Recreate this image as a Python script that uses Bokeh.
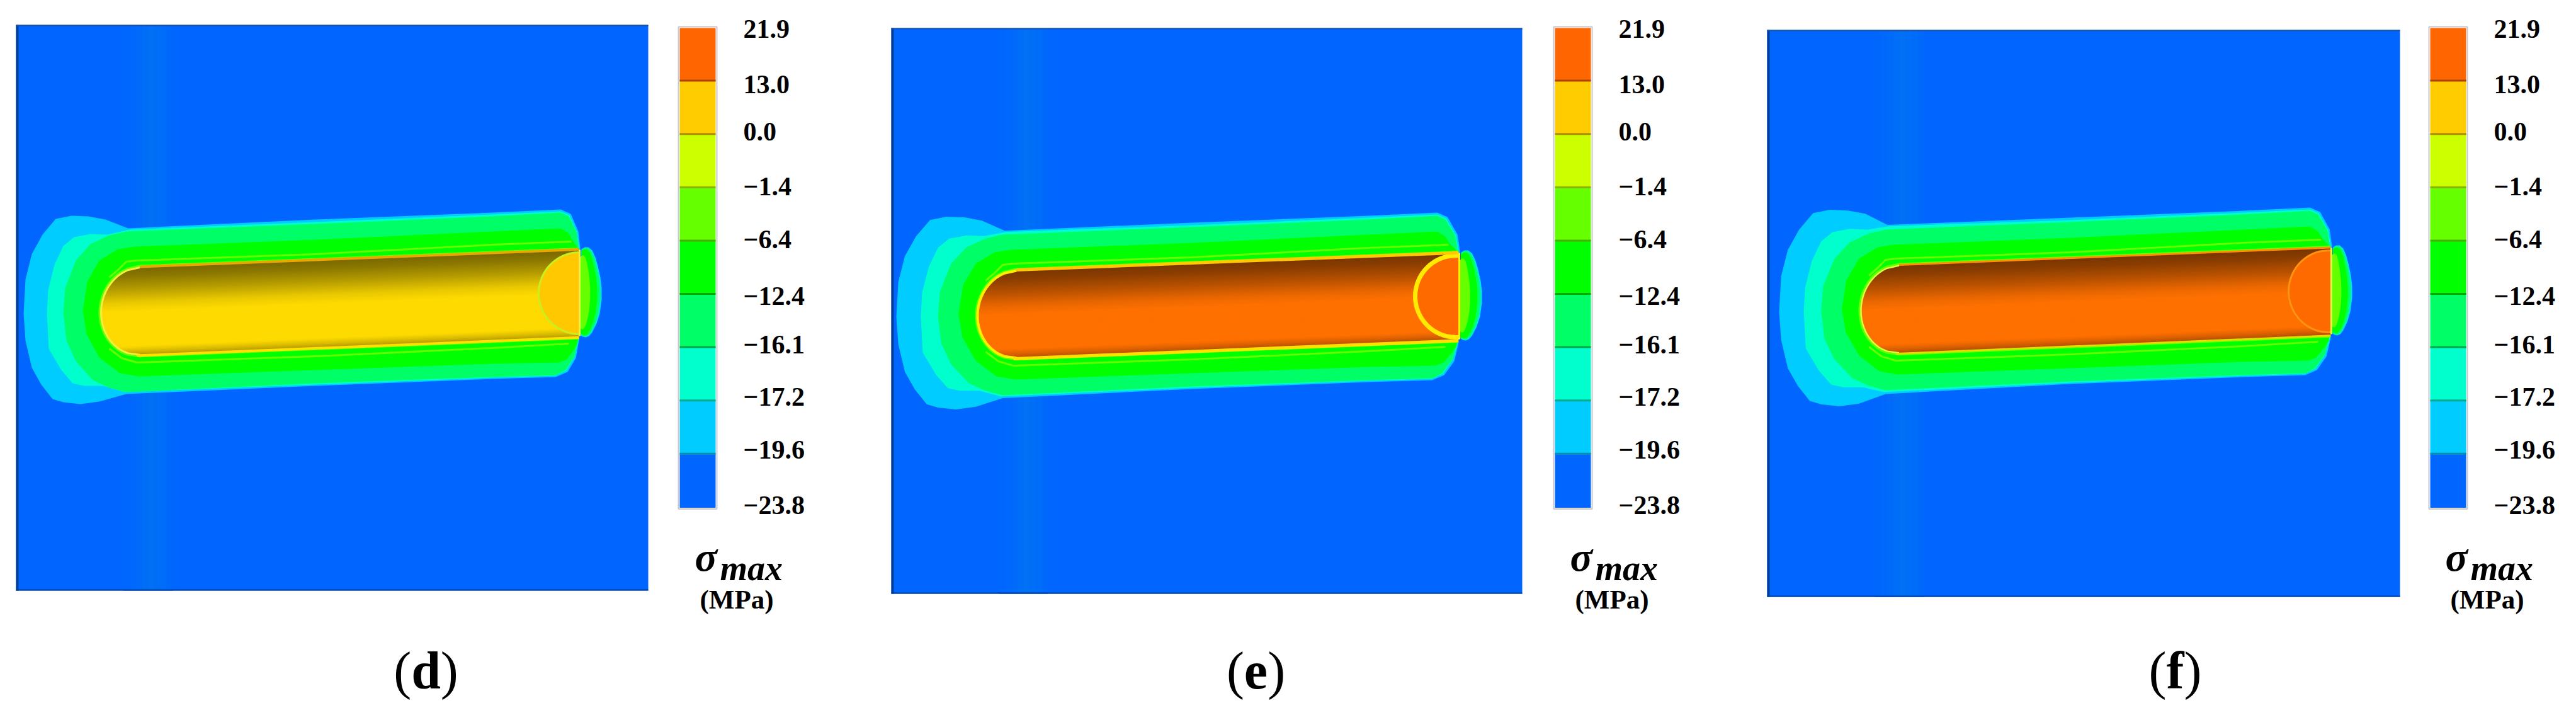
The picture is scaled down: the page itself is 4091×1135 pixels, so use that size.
from bokeh.plotting import figure
from bokeh.models import Range1d
from bokeh.core.properties import value
from bokeh.embed import file_html
from bokeh.resources import INLINE
import numpy as np

# ---- legend
legend_labels = ["21.9", "13.0", "0.0", "−1.4", "−6.4", "−12.4", "−16.1", "−17.2", "−19.6", "−23.8"]
legend_label_y = [45, 133, 208, 295, 379, 469, 546, 629, 713, 801]
legend_colors = ["#FF6600", "#FFCC00", "#CCFF00", "#66FF00", "#00FF00", "#00FF66", "#00FFCC", "#00CCFF", "#0066FF"]
legend_edges = ["#A84400", "#B08C00", "#8CB000", "#46B000", "#00A800", "#00A848", "#00A88C", "#008CB0", "#0050C0"]
legend_top, legend_step = 44, 84.6

# ---- panels
panel_names = ["d", "e", "f"]
panel_left = [25, 1415, 2806]
panel_right = [1029, 2417, 3811]
panel_top = [39, 44, 47]
panel_bottom = [937, 942, 947]
legend_shift = [0, 1390, 2780]
caption_center = [676, 1994, 3454]
caption_width = [0.556, 0.444, 0.333]
tube_base = ["#FFDA00", "#FF7000", "#FF7000"]
cap_color = ["#FFC800", "#FF6A00", "#FF6A00"]
rim_color = ["#F0F040", "#FFEE00", "#D8FF40"]
rim_width = [3, 4, 2.5]
arc_color = ["#C8F020", "#FFEA00", "#FF9410"]
arc_width = [3, 7, 3]
edge_top_color = ["#E8A800", "#FFC800", "#FF9000"]
edge_bot_color = ["#FFE000", "#FFE000", "#E0E000"]
edge_width = [4, 5, 3]

# ---- per panel placement of the contour picture (anchors in panel d pixels)
anchor_x = [37, 158, 905, 920, 955]
anchor_shift = [[0, 0, 0, 0, 0],
                [1386, 1392, 1392, 1397, 1398],
                [2788, 2795, 2778, 2782, 2780]]
panel_dy = [0, 5, -3]
lobe_stretch = [0, 0.023, 0.043]

# ---- background streak
streak_offset = [171, 180, 190, 200, 210, 220, 230, 240, 249]
streak_color = ["#0067FE", "#0068FD", "#006BFA", "#006EF7", "#0070F5", "#006FF7", "#006CFA", "#0069FC", "#0067FE"]

# ---- contour outlines (pixels of panel d)
band_00CCFF = [(203,362),(167,348),(140,343),(113,342),(88,347),(67,372),(50,403),(40,443),(37,497),(40,540),
               (50,583),(65,610),(83,633),(100,638),(127,641),(157,637),(200,625),(500,612),(780,601),(882,598),
               (901,590),(914,568),(919,540),(921,393),(918,367),(906,339),(890,332),(780,337),(500,348)]
band_00FFCC = [(205,364),(170,372),(143,371),(117,376),(100,390),(86,420),(76,460),(74,497),(77,553),(97,587),
               (115,608),(133,612),(163,612),(197,622),(500,610),(780,599),(881,596),(899,588),(912,566),(918,540),
               (919,392),(916,368),(904,341),(890,335),(780,340),(500,352)]
band_00FF66 = [(200,367),(173,373),(143,387),(120,413),(103,457),(100,497),(105,540),(120,573),(147,603),(173,615),
               (200,622),(500,608),(780,598),(883,595),(898,587),(912,565),(917,540),(918,392),(915,368),(903,343),
               (890,337),(780,343),(500,355)]
band_00FF00 = [(213,391),(187,395),(157,413),(138,447),(131,493),(137,530),(157,567),(190,592),(220,597),(500,587),
               (780,577),(887,575),(900,570),(912,553),(917,543),(917,393),(908,380),(903,370),(890,362),(780,367),(500,380)]
line_upper = [(173,440),(187,428),(200,415),(217,413),(500,403),(780,388),(907,383)]
line_lower = [(173,553),(193,568),(217,575),(500,565),(780,552),(903,545)]
end_lens = [(923,395),(928,392),(934,392),(940,397),(945,408),(949,422),(953,440),(955,457),(955,475),(952,497),
            (947,513),(940,527),(935,533),(930,535),(925,534),(922,532)]
lens_scale_x = [1.0, 0.93, 0.80, 0.48]
lens_scale_y = [1.0, 0.98, 0.95, 0.82]
lens_colors = ["#00E6E6", "#00FF66", "#00FF00", "#66FF00"]

# ---- tube
tube_top = (222, 424, -0.0394)
tube_bot = (217, 563, -0.0408)
tube_left_rx, tube_end_x = 62, 919
shade_t = [0, 0.10, 0.25, 0.40, 0.50, 0.90, 0.96, 1.0]
shade_f = [0.48, 0.55, 0.72, 0.92, 1.0, 1.0, 0.85, 0.72]
cap_center, cap_rx, cap_ry = (920, 465), 65, 65

WIDTH, HEIGHT = 4075, 1119
p = figure(width=WIDTH, height=HEIGHT, x_range=Range1d(0, WIDTH), y_range=Range1d(HEIGHT, 0),
           x_axis_type=None, y_axis_type=None, toolbar_location=None, output_backend="svg",
           min_border=0, outline_line_color=None, background_fill_color="white", border_fill_color="white")
p.grid.visible = False


def place(pts, i, lobe=False):
    a = np.asarray(pts, float)
    x, y = a[:, 0], a[:, 1]
    w = np.clip((230 - x) / 60, 0, 1) if lobe else 0
    ny = y + panel_dy[i] + (y - 491) * lobe_stretch[i] * w
    nx = x + np.interp(x, anchor_x, anchor_shift[i])
    return nx, ny


def mix(hex_color, f):
    r, g, b = (int(hex_color[k:k + 2], 16) for k in (1, 3, 5))
    return "#%02X%02X%02X" % (int(r * f), int(g * f), int(b * f))


def tube_y(x, t):
    yt = tube_top[1] + tube_top[2] * (x - tube_top[0])
    yb = tube_bot[1] + tube_bot[2] * (x - tube_bot[0])
    return yt + (yb - yt) * t


def tube_xl(t):
    return tube_top[0] - tube_left_rx * np.sqrt(np.clip(1 - (2 * t - 1) ** 2, 0, 1))


def label(x, baseline, text, size, style):
    # the y of a "middle" text sits about a third of its size above the baseline
    p.text(x=[x], y=[baseline - 0.33 * size], text=[text], text_font=value("Liberation Serif"),
           text_font_style=style, text_font_size=f"{size}px", text_color="#000000",
           text_align="left", text_baseline="middle")


for i in range(3):
    L, R, T, B = panel_left[i], panel_right[i], panel_top[i], panel_bottom[i]
    # background
    p.quad(left=L, right=R, top=T, bottom=B, fill_color="#0066FF", line_color=None)
    xs = [L + o for o in streak_offset]
    p.quad(left=xs[:-1], right=xs[1:], top=T + 2, bottom=B, fill_color=streak_color[:-1], line_color=None)
    p.quad(left=L, right=L + 4, top=T, bottom=B, fill_color="#003E9C", line_color=None)
    p.quad(left=L, right=R, top=T, bottom=T + 2, fill_color="#1A50A8", line_color=None)
    p.quad(left=L, right=R, top=B - 2, bottom=B, fill_color="#003E9C", line_color=None)

    # contour bands
    for pts, col, lobe in [(band_00CCFF, "#00CCFF", True), (band_00FFCC, "#00FFCC", True),
                           (band_00FF66, "#00FF66", False), (band_00FF00, "#00FF00", False)]:
        nx, ny = place(pts, i, lobe)
        p.patch(nx, ny, fill_color=col, line_color=None)
    for pts in (line_upper, line_lower):
        nx, ny = place(pts, i)
        p.line(nx, ny, line_color="#66FF00", line_width=3)

    # lens at the far end
    for sx, sy, col in zip(lens_scale_x, lens_scale_y, lens_colors):
        a = np.asarray(end_lens, float)
        nx, ny = place(np.c_[920 + (a[:, 0] - 920) * sx, 464 + (a[:, 1] - 464) * sy], i)
        p.patch(nx, ny, fill_color=col, line_color=None)

    # tube outline halo
    tt = np.linspace(0, 1, 41)
    xl = tube_xl(tt)
    outline = [(tube_end_x, tube_y(tube_end_x, 0))] + list(zip(xl, tube_y(xl, tt))) + [(tube_end_x, tube_y(tube_end_x, 1))]
    nx, ny = place(outline, i)
    p.line(nx, ny, line_color="#66FF00", line_width=8)

    # shaded tube body
    ts = np.linspace(0, 1, 61)
    sxs, sys, cols = [], [], []
    for t0, t1 in zip(ts[:-1], ts[1:]):
        xa, xb = tube_xl(t0), tube_xl(t1)
        q = [(xa, tube_y(xa, t0)), (tube_end_x, tube_y(tube_end_x, t0)),
             (tube_end_x, tube_y(tube_end_x, t1)), (xb, tube_y(xb, t1))]
        nx, ny = place(q, i)
        sxs.append(list(nx)); sys.append(list(ny))
        cols.append(mix(tube_base[i], float(np.interp((t0 + t1) / 2, shade_t, shade_f))))
    p.patches(sxs, sys, fill_color=cols, line_color=cols, line_width=1)

    # flat disc at the far end
    th = np.linspace(-np.pi / 2, np.pi / 2, 41)
    arc = list(zip(cap_center[0] - cap_rx * np.cos(th), cap_center[1] + cap_ry * np.sin(th)))
    nx, ny = place(arc, i)
    p.patch(nx, ny, fill_color=cap_color[i], line_color=None)
    p.line(nx, ny, line_color=arc_color[i], line_width=arc_width[i])

    # rims
    nx, ny = place(list(zip(xl, tube_y(xl, tt))), i)
    p.line(nx, ny, line_color=rim_color[i], line_width=rim_width[i])
    topline = [(tube_top[0], tube_y(tube_top[0], 0) - 1), (tube_end_x, tube_y(tube_end_x, 0) - 1)]
    botline = [(tube_bot[0], tube_y(tube_bot[0], 1) + 1), (tube_end_x, tube_y(tube_end_x, 1) + 1)]
    nx, ny = place(topline, i)
    p.line(nx, ny, line_color=edge_top_color[i], line_width=edge_width[i])
    nx, ny = place(botline, i)
    p.line(nx, ny, line_color=edge_bot_color[i], line_width=edge_width[i])
    nx, ny = place([(920, 396), (920, 533)], i)
    p.line(nx, ny, line_color=rim_color[i], line_width=3)

    # legend
    s = legend_shift[i]
    tops = [legend_top + k * legend_step for k in range(len(legend_colors))]
    p.quad(left=1077 + s, right=1138 + s, top=legend_top - 2, bottom=legend_top + 9 * legend_step + 2,
           fill_color=None, line_color="#C8C8D0", line_width=2)
    p.quad(left=1079 + s, right=1136 + s, top=tops, bottom=[t + legend_step for t in tops],
           fill_color=legend_colors, line_color=None)
    p.segment(x0=1079 + s, x1=1136 + s, y0=[t + legend_step - 1 for t in tops[:-1]],
              y1=[t + legend_step - 1 for t in tops[:-1]], line_color=legend_edges[:-1], line_width=3)
    p.text(x=1180 + s, y=legend_label_y, text=legend_labels, text_font=value("Liberation Serif"),
           text_font_style="bold", text_font_size="42px", text_color="#000000",
           text_align="left", text_baseline="middle")
    label(1103 + s, 905, "σ", 66, "bold italic")
    label(1143 + s, 920, "max", 56, "bold italic")
    label(1111 + s, 965, "(MPa)", 43, "bold")

    # caption
    fs = 84
    c, w = caption_center[i], caption_width[i]
    x0 = c - (0.666 + w) * fs / 2
    label(x0, 1092, "(", fs, "normal")
    label(x0 + 0.333 * fs, 1092, panel_names[i], fs, "bold")
    label(x0 + (0.333 + w) * fs, 1092, ")", fs, "normal")

open("out.html", "w").write(file_html(p, INLINE))
